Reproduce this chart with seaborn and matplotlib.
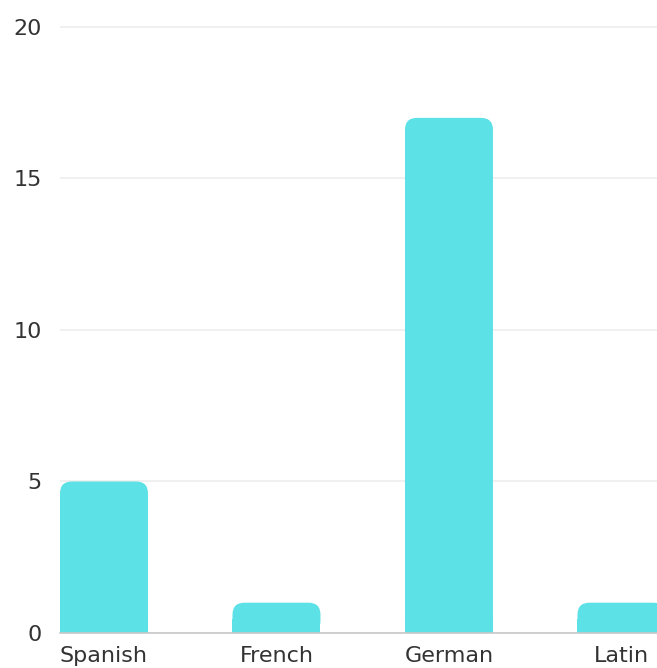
import matplotlib
matplotlib.use("Agg")
import matplotlib.pyplot as plt
import seaborn as sns
import pandas as pd
from matplotlib.patches import FancyBboxPatch, Rectangle

languages = ["Spanish", "French", "German", "Latin"]
counts = [5, 1, 17, 1]
yticks = [0, 5, 10, 15, 20]

sns.set_theme(style="white")
plt.rcParams["font.family"] = ["DejaVu Sans"]

df = pd.DataFrame({"language": languages, "count": counts})

fig = plt.figure(figsize=(6.57, 6.68), dpi=100)
ax = fig.add_axes([60 / 657, (668 - 633) / 668, 597 / 657, 633 / 668])

color = "#5CE1E6"
sns.barplot(data=df, x="language", y="count", color=color, width=0.51,
            saturation=1, ax=ax, zorder=3)

ax.set_xlim(-0.255, 3.206)
ax.set_ylim(0, 20.89)
ax.set_yticks(yticks)
ax.set_yticklabels([str(t) for t in yticks])
ax.set_xlabel("")
ax.set_ylabel("")

for s in ["top", "right", "left"]:
    ax.spines[s].set_visible(False)
ax.spines["bottom"].set_color("#C8C8C8")
ax.spines["bottom"].set_linewidth(1.2)
ax.spines["bottom"].set_zorder(5)

ax.yaxis.grid(True, color="#EDEDED", linewidth=1.2, zorder=0)
ax.set_axisbelow(True)
ax.tick_params(axis="y", length=0, pad=13, labelsize=16, labelcolor="#333333")
ax.tick_params(axis="x", length=0, pad=9, labelsize=16, labelcolor="#333333")

# rounded tops
fig.canvas.draw()
x0, x1 = ax.get_xlim()
y0, y1 = ax.get_ylim()
bbox = ax.get_window_extent()
xpp = (x1 - x0) / bbox.width
ypp = (y1 - y0) / bbox.height
aspect = ypp / xpp
r_px = 12
for p in list(ax.patches):
    x, y = p.get_x(), p.get_y()
    w, h = p.get_width(), p.get_height()
    p.set_visible(False)
    rs = r_px * xpp
    fb = FancyBboxPatch((x, y), w, h,
                        boxstyle=f"round,pad=0,rounding_size={rs}",
                        mutation_aspect=aspect, facecolor=color,
                        edgecolor="none", zorder=3)
    ax.add_patch(fb)
    ax.add_patch(Rectangle((x, y), w, min(h, r_px * ypp * 1.2),
                           facecolor=color, edgecolor="none", zorder=3))

fig.savefig("out.png", dpi=100)
